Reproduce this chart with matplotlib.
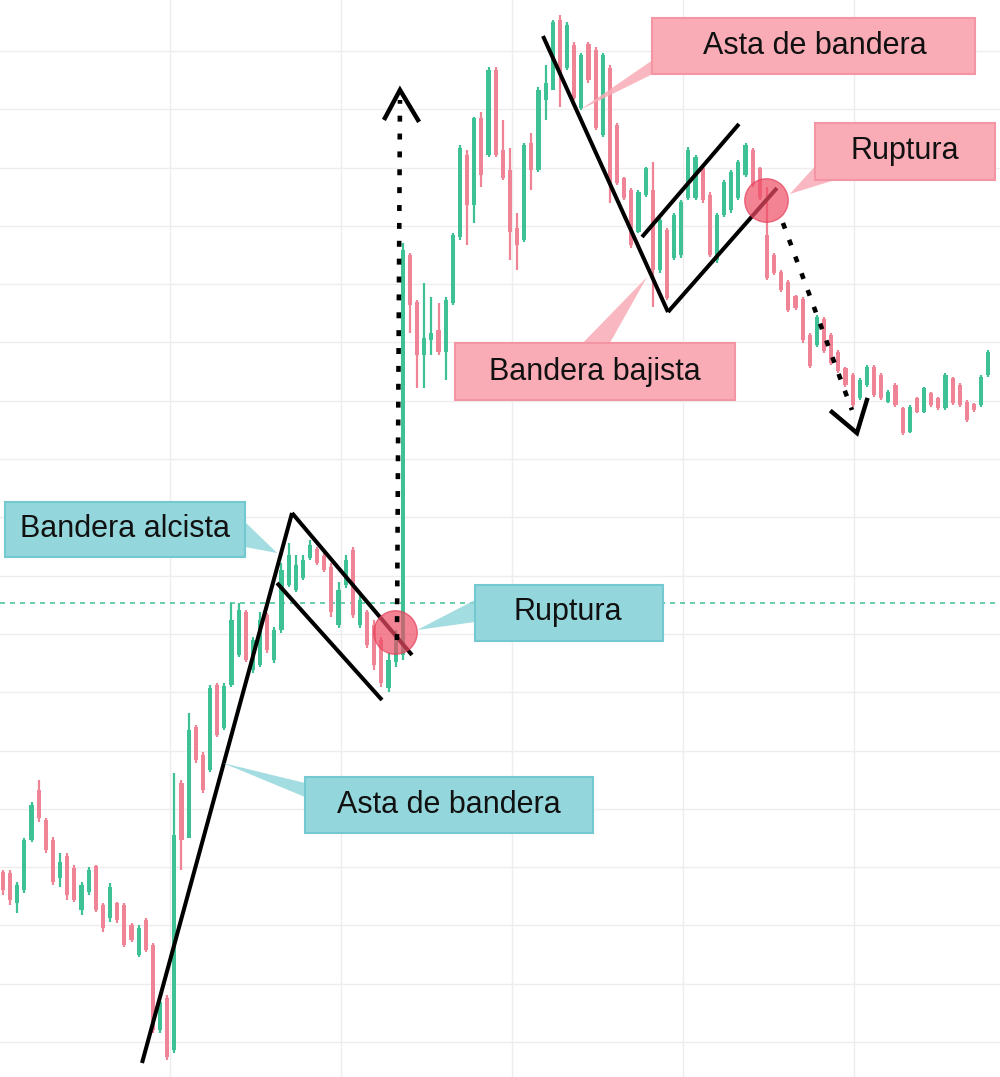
import numpy as np
import matplotlib.pyplot as plt
from matplotlib.patches import Rectangle, Polygon

plt.rcParams['font.family'] = ['Liberation Sans', 'DejaVu Sans']

# levels were read downward from the top edge of the chart, so price = TOP - level
TOP = 1077

o_read = [872, 873, 903, 890, 840, 790, 820, 840, 878, 856, 868, 910, 892, 866, 905, 918, 903, 905, 925, 955,
          920, 945, 1030, 998, 1050, 783, 838, 727, 755, 770, 685, 728, 685, 655, 612, 670, 665, 615, 660, 630,
          585, 590, 578, 558, 549, 556, 567, 625, 585, 550, 625, 612, 625, 640, 688, 662, 655, 255, 302, 355,
          340, 330, 352, 303, 237, 155, 205, 118, 155, 70, 150, 170, 228, 240, 143, 170, 100, 90, 20, 68,
          45, 108, 44, 50, 135, 68, 125, 178, 190, 232, 195, 190, 270, 230, 258, 255, 198, 198, 168, 195,
          260, 215, 210, 198, 175, 150, 168, 235, 255, 272, 282, 296, 299, 335, 345, 319, 335, 352, 368, 375,
          398, 385, 367, 375, 402, 385, 408, 432, 398, 412, 393, 398, 408, 378, 385, 402, 404, 405, 375]
c_read = [890, 900, 885, 840, 805, 818, 850, 882, 862, 895, 900, 885, 870, 910, 928, 887, 920, 945, 940, 928,
          950, 1030, 1002, 1057, 835, 840, 730, 760, 790, 688, 735, 686, 620, 610, 660, 640, 620, 650, 630, 570,
          555, 565, 560, 545, 563, 570, 612, 590, 560, 615, 600, 645, 665, 683, 660, 635, 250, 305, 355, 338,
          333, 352, 300, 235, 148, 205, 118, 175, 70, 155, 178, 232, 245, 145, 170, 90, 83, 22, 75, 25,
          98, 55, 80, 128, 55, 185, 183, 198, 245, 192, 168, 270, 220, 298, 215, 202, 150, 157, 200, 255,
          215, 182, 172, 162, 145, 185, 198, 278, 273, 290, 310, 308, 340, 366, 317, 351, 363, 371, 385, 405,
          380, 367, 395, 398, 392, 405, 433, 407, 412, 388, 405, 408, 375, 403, 405, 420, 410, 377, 352]
h_read = [870, 870, 882, 838, 802, 780, 818, 837, 853, 853, 865, 882, 867, 865, 903, 883, 902, 903, 923, 925,
          918, 943, 1000, 995, 773, 780, 713, 725, 752, 685, 683, 683, 603, 603, 610, 637, 612, 613, 627, 563,
          543, 555, 555, 540, 547, 553, 563, 582, 555, 547, 593, 610, 620, 637, 653, 630, 243, 253, 300, 283,
          297, 303, 297, 233, 145, 150, 117, 112, 67, 67, 120, 148, 213, 143, 133, 87, 65, 20, 15, 22,
          42, 53, 42, 47, 53, 65, 123, 177, 188, 190, 167, 162, 218, 228, 213, 200, 147, 155, 167, 192,
          213, 180, 170, 160, 143, 148, 167, 187, 253, 270, 280, 295, 297, 333, 315, 317, 333, 350, 367, 373,
          378, 365, 365, 373, 390, 383, 407, 405, 397, 387, 392, 397, 373, 377, 383, 400, 403, 375, 350]
l_read = [895, 905, 913, 893, 842, 822, 853, 885, 887, 900, 902, 915, 895, 912, 932, 922, 923, 947, 942, 957,
          952, 1033, 1033, 1060, 1053, 870, 838, 763, 793, 772, 737, 730, 687, 657, 662, 673, 667, 653, 663, 633,
          587, 592, 580, 560, 565, 572, 617, 628, 588, 618, 628, 648, 670, 687, 692, 667, 660, 333, 388, 388,
          355, 355, 380, 305, 240, 245, 223, 187, 157, 157, 180, 260, 270, 242, 190, 172, 120, 90, 107, 70,
          100, 110, 83, 130, 137, 203, 185, 200, 248, 233, 197, 307, 273, 300, 260, 258, 200, 200, 203, 257,
          263, 217, 213, 200, 177, 187, 200, 280, 275, 292, 312, 310, 343, 368, 347, 353, 365, 373, 387, 407,
          400, 387, 397, 400, 403, 407, 435, 433, 413, 413, 407, 410, 410, 405, 407, 422, 412, 407, 377]

# drawn pattern lines, (candle index, level)
pole_bull = [(19.47, 1063), (40.48, 513)]
flag_bull_up = [(40.48, 513), (57.28, 655)]
flag_bull_low = [(38.38, 583), (53.08, 700)]
arrow_up = [(55.18, 640), (55.6, 100)]
head_up = [(53.5, 118), (55.6, 90), (58.12, 120)]
pole_bear = [(75.63, 36), (93.14, 312)]
flag_bear_low = [(93.14, 312), (108.4, 188)]
flag_bear_up = [(89.5, 237), (103.08, 124)]
arrow_down = [(109.24, 223), (118.9, 410)]
head_down = [(116.1, 412), (119.6, 433), (121.0, 400)]
breakouts = [(54.9, 632), (106.86, 200)]
breakout_level = 603

# labels: text, box (x0, x1, top, bottom), text position, pointer, kind
labels = [
    ('Asta de bandera', (90.9, 136.1, 18, 74), (113.7, 46), [(91.0, 60), (91.0, 74), (80.8, 110)], 'bear'),
    ('Ruptura', (113.7, 138.9, 123, 180), (126.3, 151), [(113.9, 165), (116.5, 180), (110.2, 194)], 'bear'),
    ('Bandera bajista', (63.3, 102.5, 343, 400), (82.9, 372), [(81.2, 343), (85.0, 343), (90.2, 277)], 'bear'),
    ('Bandera alcista', (0.28, 33.9, 502, 557), (17.1, 529), [(33.9, 522), (33.9, 547), (38.4, 553)], 'bull'),
    ('Ruptura', (66.1, 92.4, 585, 641), (79.1, 612), [(66.1, 600), (66.1, 622), (58.0, 630)], 'bull'),
    ('Asta de bandera', (42.3, 82.6, 777, 833), (62.5, 805), [(42.3, 783), (42.3, 797), (30.8, 763)], 'bull'),
]

GREEN = '#3fc196'
RED = '#f08497'
box_col = {'bull': ('#93d7dc', '#74c8cf'), 'bear': ('#f9abb6', '#f495a3')}


def P(v):
    return TOP - np.asarray(v, dtype=float)


o = P(o_read)
c = P(c_read)
hi = np.maximum(P(h_read), np.maximum(o, c))
lo = np.minimum(P(l_read), np.minimum(o, c))
x = np.arange(len(o))
up = c >= o
cols = np.where(up, GREEN, RED)

fig = plt.figure(figsize=(10, 10.77), dpi=100)
ax = fig.add_axes([0, 0, 1, 1])
ax.set_xlim(-0.42, 139.64)
ax.set_ylim(0, TOP)
ax.axis('off')

# grid
for gx in np.arange(23.4, 140, 23.95):
    ax.axvline(gx, color='#ededed', lw=1, zorder=0)
for gy in np.arange(35, TOP, 58.3):
    ax.axhline(gy, color='#ededed', lw=1, zorder=0)
ax.axhline(P(breakout_level), color='#4fc6a0', lw=1.2, ls=(0, (3, 3)), zorder=1)

# candles
ax.vlines(x, lo, hi, colors=cols, lw=1.6, zorder=2)
body_lo = np.minimum(o, c)
body_h = np.maximum(np.abs(c - o), 2)
ax.bar(x, body_h, bottom=body_lo, width=0.58, color=cols, zorder=2)


def seg(pts, **kw):
    xs, ys = zip(*pts)
    ax.plot(xs, P(ys), **kw)


line_kw = dict(color='black', lw=2.9, solid_capstyle='butt', zorder=4)
for pts in [pole_bull, flag_bull_up, flag_bull_low, pole_bear, flag_bear_low, flag_bear_up]:
    seg(pts, **line_kw)

for bx, by in breakouts:
    ax.scatter([bx], P([by]), s=980, color='#ef4d66', alpha=0.7, edgecolors='#e33f59',
               linewidths=1, zorder=5)

dot_kw = dict(color='black', lw=3.3, ls=(0, (1.3, 2.6)), dash_capstyle='butt', zorder=6)
seg(arrow_up, **dot_kw)
seg(arrow_down, **dot_kw)
seg(head_up, color='black', lw=3.2, solid_joinstyle='miter', zorder=6)
seg(head_down, color='black', lw=3.2, solid_joinstyle='miter', zorder=6)

for text, (x0, x1, t, b), (tx, ty), ptr, kind in labels:
    fc, ec = box_col[kind]
    ax.add_patch(Polygon([(px, TOP - py) for px, py in ptr], closed=True, fc=fc, ec='none',
                         alpha=0.85, zorder=7))
    ax.add_patch(Rectangle((x0, TOP - b), x1 - x0, b - t, fc=fc, ec=ec, lw=1.5, zorder=7))
    ax.text(tx, TOP - ty, text, ha='center', va='center', fontsize=22, color='#111111', zorder=8)

fig.savefig('out.png', dpi=100)
